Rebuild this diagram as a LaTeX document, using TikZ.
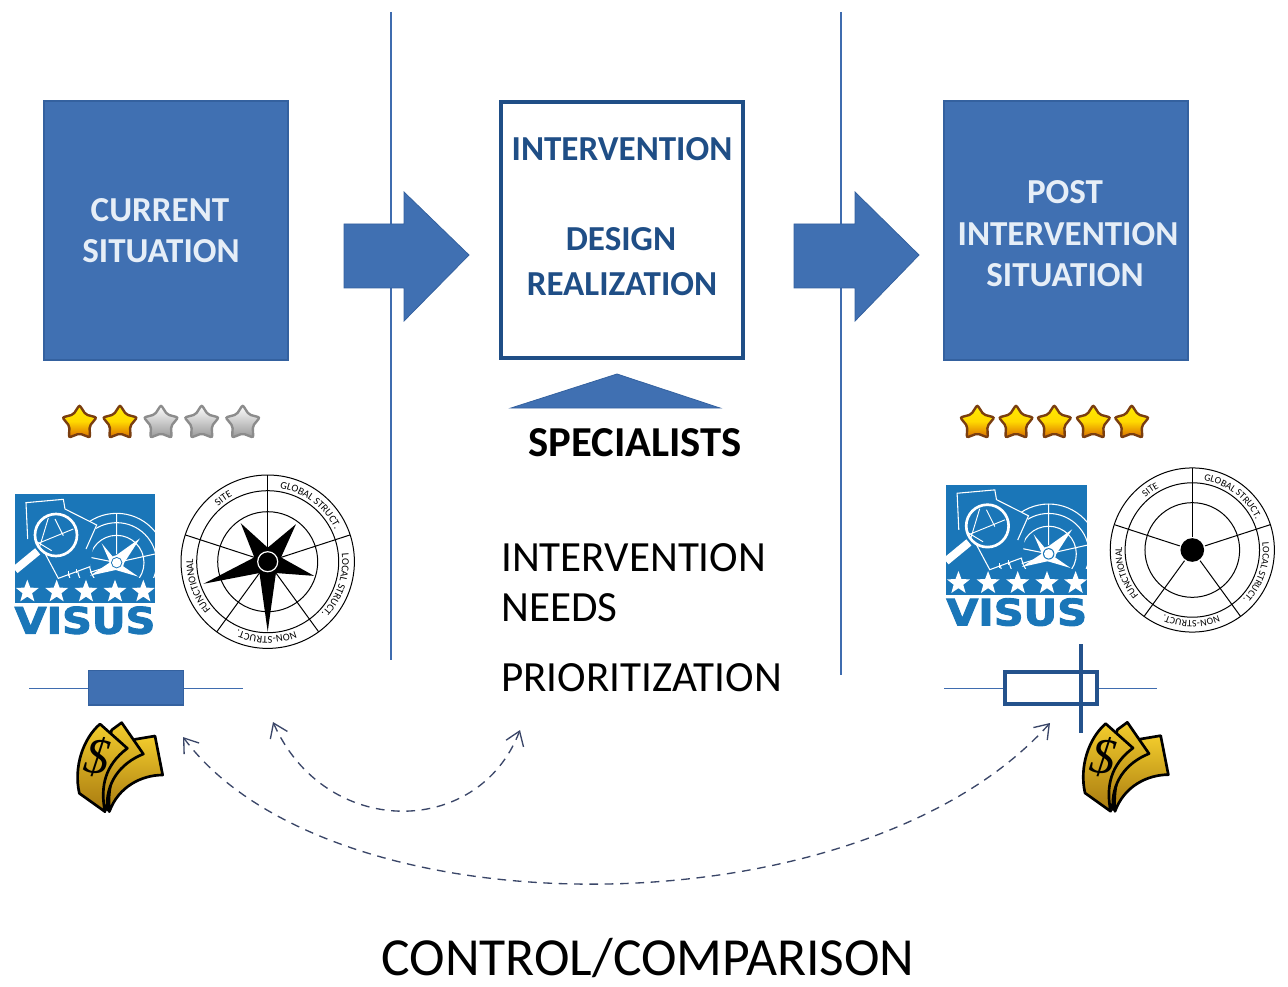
\documentclass[tikz,border=0pt]{standalone}
\usepackage{fontspec}
\setmainfont{Carlito}
\newfontfamily\moneyfont{Liberation Serif}
\newfontfamily\heavyfont[FakeBold=2.5]{DejaVu Sans Bold}
\usetikzlibrary{arrows.meta,decorations.text}
\definecolor{boxblue}{HTML}{4070B2}
\definecolor{boxedge}{HTML}{34619F}
\definecolor{darkblue}{HTML}{1F4E86}
\definecolor{ruleblue}{HTML}{3F6CAF}
\definecolor{logoblue}{HTML}{1A76B8}
\definecolor{dashcol}{HTML}{3A4668}
\definecolor{boxtext}{HTML}{E6EEF7}
\definecolor{goldtop}{HTML}{F2CC2C}
\definecolor{goldbot}{HTML}{A87A10}
\definecolor{staredge}{HTML}{7A3E10}
\newcommand{\starpath}[4]{plot[samples at={0,...,9},variable=\i] ({#1+(mod(\i,2)==0?#3:#4)*cos(90+36*\i)},{#2-(mod(\i,2)==0?#3:#4)*sin(90+36*\i)}) -- cycle}
\tikzset{
  solidbox/.style={draw=boxedge,fill=boxblue,line width=1.5pt},
  blockarrow/.style={fill=boxblue,draw=boxedge,line width=.6pt},
  boxlabel/.style={font=\bfseries\fontsize{26.3}{26.3}\selectfont,text=boxtext,inner sep=0pt},
  midlabel/.style={font=\bfseries\fontsize{26.3}{26.3}\selectfont,text=darkblue,inner sep=0pt},
  plainlabel/.style={font=\fontsize{32.3}{32.3}\selectfont,text=black,inner sep=0pt,anchor=west,text depth=0pt},
  divider/.style={draw=ruleblue,line width=.9pt},
  whisker/.style={draw=ruleblue,line width=1.1pt},
  dasharc/.style={draw=dashcol,line width=1pt,dash pattern=on 6.5pt off 5pt,{Straight Barb[length=10pt,width=14pt,line width=1pt]}-{Straight Barb[length=10pt,width=14pt,line width=1pt]}},
  goldstar/.style={top color=yellow!85!orange,bottom color=orange!85!black,middle color=yellow!70!orange,draw=staredge,line width=1.8pt,rounded corners=1.5pt},
  greystar/.style={top color=white,bottom color=black!40,draw=black!45,line width=1.8pt,rounded corners=1.5pt},
  bill/.style={top color=goldtop,bottom color=goldbot,draw=black,line width=2pt,line join=round},
  visus/.pic={
    \fill[logoblue] (0,0) rectangle (420,328);
    \begin{scope}
      \clip (0,0) rectangle (420,250);
      \draw[white,line width=.8pt] (305,206) circle[radius=82];
      \draw[white,line width=.8pt] (305,206) circle[radius=120];
      \draw[white,line width=.8pt] (305,206) circle[radius=148];
      \draw[white,line width=.8pt] (305,58) -- (305,180) (225,190) -- (285,202) (330,200) -- (420,180) (225,235) -- (290,215);
      \fill[logoblue] (145,43) -- (245,93) -- (225,218) -- (130,253) -- (90,178) -- cycle;
      \fill[white] (260,148) -- (295,190) -- (375,133) -- (322,215) -- (370,248) -- (302,228) -- (225,245) -- (285,205) -- cycle;
      \fill[white] (305,206) circle[radius=22];
      \fill[logoblue] (305,206) circle[radius=17];
      \fill[white] (305,206) circle[radius=14];
    \end{scope}
    \draw[white,line width=.8pt] (38,135) -- (33,26) -- (145,16) -- (150,45) -- (245,93) -- (213,165);
    \draw[white,line width=.8pt] (90,178) -- (130,253) -- (225,218);
    \draw[white,line width=.8pt] (160,247) -- (160,232) (185,238) -- (185,225);
    \draw[white,line width=2pt] (123,123) circle[radius=63];
    \draw[white,line width=.7pt] (65,150) -- (175,105) (100,72) -- (72,165) (120,75) -- (145,125) (60,140) -- (110,170);
    \draw[white,line width=6pt] (68,172) -- (0,228);
    \foreach \sx in {37,125,213,300,385}{\fill[white] \starpath{\sx}{293}{36}{15};}
    \node[inner sep=0pt,text=logoblue,font=\heavyfont\fontsize{28}{28}\selectfont,xscale=1.11,yscale=.98] (vtxt) at (210,379) {VISUS};
  },
  money/.pic={
    \draw[bill] (345,268) -- (405,258) -- (428,375) .. controls (365,375) and (295,410) .. (268,485) .. controls (260,400) and (290,320) .. (345,268) -- cycle;
    \draw[bill] (275,240) -- (305,218) -- (370,312) .. controls (300,340) and (255,400) .. (262,480) -- (230,430) -- cycle;
    \draw[bill] (240,222) -- (322,295) .. controls (255,345) and (240,410) .. (255,485) -- (178,430) .. controls (160,350) and (190,265) .. (240,222) -- cycle;
    \node[inner sep=0pt,rotate=-8,font=\moneyfont\itshape\fontsize{38}{38}\selectfont] (dol) at (232,322) {\$};
  }
}
% compass: drawn with y upwards, radii for the left copy
\newcommand{\compassrings}[1]{%
  \draw[line width=.75pt] (0,0) circle[radius=86.7] (0,0) circle[radius=71] (0,0) circle[radius=50];
  \foreach \a in {90,18,-54,-126,162}{\draw[line width=.75pt] (\a:14) -- (\a:86.7);}
  \path[decorate,decoration={text along path,text align=center,text={|\fontsize{#1}{#1}\selectfont|SITE}}] (145:74.5) arc[start angle=145,end angle=105,radius=74.5];
  \path[decorate,decoration={text along path,text align=center,text={|\fontsize{#1}{#1}\selectfont|GLOBAL STRUCT.}}] (88:74.5) arc[start angle=88,end angle=18,radius=74.5];
  \path[decorate,decoration={text along path,text align=center,text={|\fontsize{#1}{#1}\selectfont|LOCAL STRUCT.}}] (12:74.5) arc[start angle=12,end angle=-50,radius=74.5];
  \path[decorate,decoration={text along path,text align=center,text={|\fontsize{#1}{#1}\selectfont|NON-STRUCT.}}] (-60:74.5) arc[start angle=-60,end angle=-122,radius=74.5];
  \path[decorate,decoration={text along path,text align=center,text={|\fontsize{#1}{#1}\selectfont|FUNCTIONAL}}] (-130:74.5) arc[start angle=-130,end angle=-192,radius=74.5];
}
\begin{document}
\begin{tikzpicture}[x=.75pt,y=-.75pt]
\useasboundingbox (0,0) rectangle (1288,987);
% dividers
\coordinate (d1t) at (391,12); \coordinate (d1b) at (391,660);
\coordinate (d2t) at (841,12); \coordinate (d2b) at (841,675);
\draw[divider] (d1t) -- (d1b);
\draw[divider] (d2t) -- (d2b);
% main boxes
\draw[solidbox] (44,101) rectangle (288,360);
\draw[draw=darkblue,fill=white,line width=3pt] (501,102) rectangle (743,358);
\draw[solidbox] (944,101) rectangle (1188,360);
\node[boxlabel] (cur1) at (160,210) {CURRENT};
\node[boxlabel] (cur2) at (161,251) {SITUATION};
\node[midlabel] (mid1) at (622,149) {INTERVENTION};
\node[midlabel] (mid2) at (621,239) {DESIGN};
\node[midlabel] (mid3) at (622,284) {REALIZATION};
\node[boxlabel] (post1) at (1065,192) {POST};
\node[boxlabel] (post2) at (1068,234) {INTERVENTION};
\node[boxlabel] (post3) at (1065,275) {SITUATION};
% block arrows
\draw[blockarrow] (344,224) -- (404,224) -- (404,192) -- (469,255) -- (404,321) -- (404,288) -- (344,288) -- cycle;
\draw[blockarrow] (794,224) -- (855,224) -- (855,192) -- (919,255) -- (855,321) -- (855,288) -- (794,288) -- cycle;
\draw[blockarrow] (511,408) -- (617,374) -- (720,408) -- cycle;
\node[inner sep=0pt,font=\bfseries\fontsize{32}{32}\selectfont] (spec) at (635,443) {SPECIALISTS};
% plain labels
\node[plainlabel] (need1) at (501,558) {INTERVENTION};
\node[plainlabel] (need2) at (501,608) {NEEDS};
\node[plainlabel] (prio) at (501,678) {PRIORITIZATION};
\node[inner sep=0pt,text depth=0pt,font=\fontsize{40.2}{40.2}\selectfont] (ctrl) at (648,957) {CONTROL/COMPARISON};
% rating stars
\foreach \sx in {79.5,120}{\draw[goldstar] \starpath{\sx}{423}{18}{10.5};}
\foreach \sx in {161,201.7,242.7}{\draw[greystar] \starpath{\sx}{423}{18}{10.5};}
\foreach \sx in {977.3,1016,1054.3,1093.3,1131.7}{\draw[goldstar] \starpath{\sx}{423}{18}{10.5};}
% logos
\begin{scope}[shift={(15,494)},x=.25pt,y=-.25pt]
  \pic {visus};
\end{scope}
\begin{scope}[shift={(946,484.5)},x=.2525pt,y=-.2525pt]
  \pic {visus};
\end{scope}
% left compass
\begin{scope}[shift={(267.7,561.7)},x=.75pt,y=.75pt]
  \compassrings{7.8}
  \fill[black] (125:47) -- (90:14) -- (53:47) -- (18:14) -- (-17:48.5) -- (-54:14) -- (-90:70) -- (-126:14) -- (199:68) -- (162:14) -- cycle;
  \fill[black] (0,0) circle[radius=12];
  \draw[white,line width=.9pt] (0,0) circle[radius=10];
\end{scope}
% right compass
\begin{scope}[shift={(1192.3,550)},x=.71pt,y=.71pt]
  \compassrings{7.4}
  \fill[black] (0,0) circle[radius=12.5];
\end{scope}
% box plots
\coordinate (w1a) at (29,688.7); \coordinate (w1b) at (243,688.7);
\draw[whisker] (w1a) -- (w1b);
\draw[solidbox,line width=1pt] (88.3,670.7) rectangle (183.3,705);
\coordinate (w2a) at (944,688.7); \coordinate (w2b) at (1157,688.7);
\draw[whisker] (w2a) -- (w2b);
\draw[draw=darkblue!85!ruleblue,fill=white,line width=3pt] (1005,672) rectangle (1097,704);
\draw[draw=darkblue!85!ruleblue,line width=3.6pt] (1081,644) -- (1081,733);
% money
\begin{scope}[shift={(20,650)},x=.25pt,y=-.25pt]
  \pic {money};
\end{scope}
\begin{scope}[shift={(1025.67,649.67)},x=.25pt,y=-.25pt]
  \pic {money};
\end{scope}
% comparison arcs
\coordinate (c1a) at (183,737); \coordinate (c1b) at (1050,723);
\coordinate (c2a) at (273,722); \coordinate (c2b) at (520,730);
\draw[dasharc] (c1a) .. controls (330,935) and (860,935) .. (c1b);
\draw[dasharc] (c2a) .. controls (325,839) and (478,839) .. (c2b);
\end{tikzpicture}
\end{document}
